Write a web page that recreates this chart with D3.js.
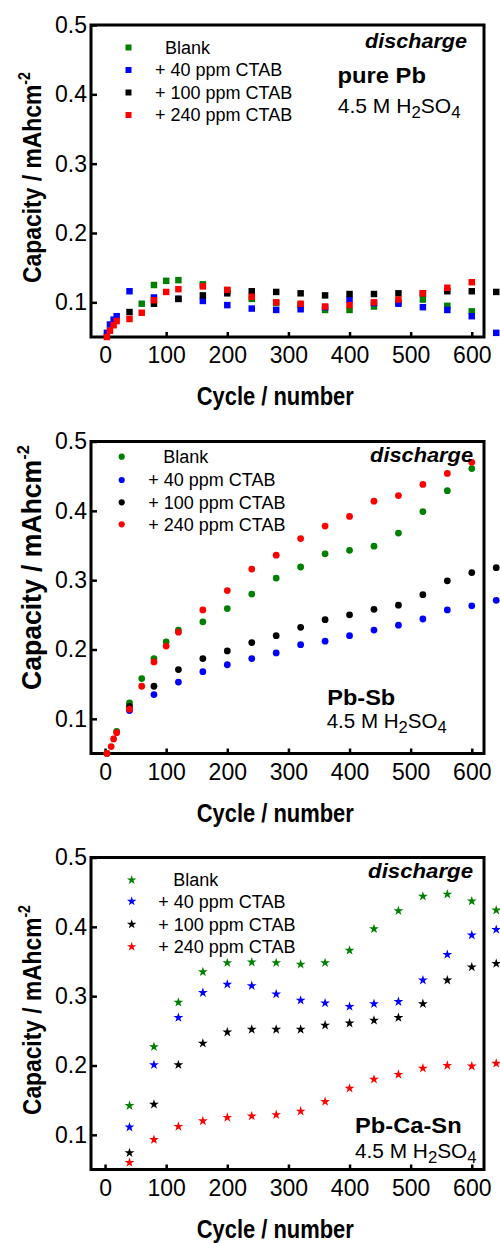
<!DOCTYPE html>
<html>
<head>
<meta charset="utf-8">
<script src="https://cdn.jsdelivr.net/npm/d3@7"></script>
<style>
  body { margin: 0; background: #fff; }
  svg { display: block; }
  text { font-family: "Liberation Sans", Arial, Helvetica, sans-serif; fill: #000; }
</style>
</head>
<body>
<svg id="chart" width="500" height="1243"></svg>
<script>
// ---------- data ----------
const xTicks = [0, 100, 200, 300, 400, 500, 600];
const yTicks = [0.1, 0.2, 0.3, 0.4, 0.5];
const legendLabels = ["Blank", "+ 40 ppm CTAB", "+ 100 ppm CTAB", "+ 240 ppm CTAB"];
const cycles40 = [40, 80, 120, 160, 200, 240, 280, 320, 360, 400, 440, 480, 520, 560, 600, 640];

// pure Pb
const pbBlankCycles = [60, 80, 100, 120, 160, 200, 240, 280, 320, 360, 400, 440, 480, 520, 560, 600];
const pbBlank = [0.098, 0.125, 0.131, 0.132, 0.126, 0.117, 0.105, 0.099, 0.096, 0.089, 0.089, 0.094, 0.100, 0.104, 0.095, 0.087];
const pb40Cycles = [3, 8, 14, 19, 40, 80, 120, 160, 200, 240, 280, 320, 360, 400, 440, 480, 520, 560, 600, 640];
const pb40 = [0.056, 0.068, 0.075, 0.080, 0.116, 0.107, 0.105, 0.102, 0.096, 0.091, 0.089, 0.090, 0.093, 0.104, 0.099, 0.098, 0.093, 0.089, 0.080, 0.056];
const pb100Cycles = [40, 80, 120, 160, 200, 240, 280, 320, 360, 400, 440, 480, 520, 560, 600, 640];
const pb100 = [0.086, 0.098, 0.105, 0.110, 0.113, 0.116, 0.115, 0.113, 0.110, 0.112, 0.112, 0.113, 0.113, 0.116, 0.116, 0.115];
const pb240Cycles = [3, 8, 14, 19, 40, 60, 80, 100, 120, 160, 200, 240, 280, 320, 360, 400, 440, 480, 520, 560, 600];
const pb240 = [0.050, 0.059, 0.067, 0.073, 0.076, 0.085, 0.103, 0.115, 0.119, 0.123, 0.118, 0.108, 0.100, 0.098, 0.094, 0.096, 0.100, 0.104, 0.113, 0.121, 0.129];

// Pb-Sb
const sbBlankCycles = [3, 19, 40, 60, 80, 100, 120, 160, 200, 240, 280, 320, 360, 400, 440, 480, 520, 560, 600];
const sbBlank = [0.050, 0.082, 0.123, 0.158, 0.187, 0.211, 0.228, 0.240, 0.259, 0.280, 0.303, 0.319, 0.338, 0.343, 0.349, 0.368, 0.399, 0.429, 0.461];
const sb40 = [0.112, 0.135, 0.153, 0.168, 0.178, 0.187, 0.195, 0.207, 0.212, 0.220, 0.228, 0.235, 0.244, 0.257, 0.263, 0.271];
const sb100 = [0.118, 0.147, 0.171, 0.187, 0.198, 0.210, 0.220, 0.232, 0.243, 0.250, 0.258, 0.264, 0.279, 0.299, 0.311, 0.318];
const sb240Cycles = [3, 10, 14, 19, 40, 60, 80, 100, 120, 160, 200, 240, 280, 320, 360, 400, 440, 480, 520, 560, 600];
const sb240 = [0.050, 0.060, 0.071, 0.080, 0.114, 0.147, 0.182, 0.205, 0.225, 0.257, 0.285, 0.316, 0.336, 0.360, 0.378, 0.392, 0.414, 0.422, 0.438, 0.454, 0.470];

// Pb-Ca-Sn
const snBlank = [0.142, 0.227, 0.291, 0.335, 0.348, 0.349, 0.348, 0.346, 0.348, 0.366, 0.397, 0.423, 0.444, 0.447, 0.437, 0.424];
const sn40 = [0.111, 0.201, 0.269, 0.305, 0.317, 0.315, 0.303, 0.294, 0.290, 0.285, 0.289, 0.292, 0.323, 0.360, 0.388, 0.396];
const sn100 = [0.074, 0.144, 0.201, 0.232, 0.248, 0.252, 0.252, 0.252, 0.258, 0.261, 0.265, 0.269, 0.289, 0.323, 0.342, 0.347];
const sn240 = [0.060, 0.093, 0.112, 0.120, 0.125, 0.127, 0.129, 0.134, 0.148, 0.167, 0.180, 0.187, 0.196, 0.200, 0.199, 0.203];

const colors = ["#008000", "#0000ff", "#000000", "#ff0000"];

// ---------- layout ----------
const left = 91, right = 484, plotH = 312;
const panels = [
  { top: 25, symbol: d3.symbolSquare, size: 42, legSize: 36,
    series: [[pbBlankCycles, pbBlank], [pb40Cycles, pb40], [pb100Cycles, pb100], [pb240Cycles, pb240]],
    leg: { mx: 128.5, tx0: 165, tx: 155, rows: [22.5, 45, 67.5, 90] },
    dis: { x: 467, y: 23.3, w: 102 },
    name: { text: "pure Pb", x: 337.5, y: 58.3, w: 88.5 },
    acid: { x: 337.7, y: 87.8, w: 123 },
    yTitle: { x: 41, start: 258, len: 211, size: 26 } },
  { top: 441.5, symbol: d3.symbolCircle, size: 36, legSize: 30,
    series: [[sbBlankCycles, sbBlank], [cycles40, sb40], [cycles40, sb100], [sb240Cycles, sb240]],
    leg: { mx: 121.7, tx0: 163.3, tx: 148.3, rows: [15.2, 38.5, 60.8, 82.8] },
    dis: { x: 473, y: 20.2, w: 103 },
    name: { text: "Pb-Sb", x: 327.3, y: 263.5, w: 68 },
    acid: { x: 326.7, y: 286.8, w: 120 },
    yTitle: { x: 41, start: 248.5, len: 245, size: 28 } },
  { top: 857.5, symbol: d3.symbolStar, size: 30, legSize: 28,
    series: [[cycles40, snBlank], [cycles40, sn40], [cycles40, sn100], [cycles40, sn240]],
    leg: { mx: 131.7, tx0: 173.3, tx: 158.3, rows: [22.5, 43.8, 66.8, 89.2] },
    dis: { x: 473, y: 20.8, w: 105 },
    name: { text: "Pb-Ca-Sn", x: 355, y: 275.8, w: 106.7 },
    acid: { x: 355, y: 300.8, w: 121.7 },
    yTitle: { x: 41, start: 257.5, len: 210, size: 26 } }
];

const svg = d3.select("#chart");
const x = d3.scaleLinear().domain([-23, 620]).range([left, right]);
const y = d3.scaleLinear().domain([0.05, 0.5]).range([plotH, 0]);

// squeeze a text horizontally (in its own frame) to a wanted width
function squeeze(sel, w) {
  const len = sel.node().getComputedTextLength();
  return len > 0 ? w / len : 1;
}

panels.forEach(p => {
  const g = svg.append("g").attr("transform", `translate(0,${p.top})`);

  // axes: inward ticks
  const xa = g.append("g").attr("transform", `translate(0,${plotH})`)
    .call(d3.axisBottom(x).tickValues(xTicks).tickSize(-5).tickPadding(10).tickFormat(d3.format("d")));
  const ya = g.append("g").attr("transform", `translate(${left},0)`)
    .call(d3.axisLeft(y).tickValues(yTicks).tickSize(-6).tickPadding(4).tickFormat(d3.format(".1f")));
  [xa, ya].forEach(a => {
    a.select(".domain").remove();
    a.selectAll("line").attr("stroke", "#000").attr("stroke-width", 2.5);
    a.selectAll("text").attr("font-size", 23).attr("fill", "#000")
      .style("font-family", '"Liberation Sans", Arial, sans-serif');
  });

  // frame
  g.append("rect")
    .attr("x", left).attr("y", 0)
    .attr("width", right - left).attr("height", plotH)
    .attr("fill", "none").attr("stroke", "#000").attr("stroke-width", 3);

  // points
  p.series.forEach((s, i) => {
    const pts = s[0].map((c, k) => ({ c: c, v: s[1][k] }));
    g.append("g").selectAll("path")
      .data(pts)
      .enter()
      .append("path")
        .attr("d", d3.symbol().type(p.symbol).size(p.size))
        .attr("transform", d => `translate(${x(d.c)},${y(d.v)})`)
        .attr("fill", colors[i]);
  });

  // legend
  legendLabels.forEach((lab, i) => {
    const ry = p.leg.rows[i];
    g.append("path")
      .attr("d", d3.symbol().type(p.symbol).size(p.legSize))
      .attr("transform", `translate(${p.leg.mx},${ry})`)
      .attr("fill", colors[i]);
    g.append("text")
      .attr("x", i == 0 ? p.leg.tx0 : p.leg.tx)
      .attr("y", ry)
      .attr("dy", "0.35em")
      .attr("font-size", 18)
      .text(lab);
  });

  // "discharge"
  const dis = g.append("text")
    .attr("font-size", 20).attr("font-weight", "bold").attr("font-style", "italic")
    .attr("text-anchor", "end").text("discharge");
  dis.attr("transform", `translate(${p.dis.x},${p.dis.y}) scale(${squeeze(dis, p.dis.w)},1)`);

  // alloy name
  const nm = g.append("text").attr("font-size", 22).attr("font-weight", "bold").text(p.name.text);
  nm.attr("transform", `translate(${p.name.x},${p.name.y}) scale(${squeeze(nm, p.name.w)},1)`);

  // 4.5 M H2SO4
  const ac = g.append("text").attr("font-size", 20);
  ac.append("tspan").text("4.5 M H");
  ac.append("tspan").attr("font-size", 16).attr("dy", 5).text("2");
  ac.append("tspan").attr("dy", -5).text("SO");
  ac.append("tspan").attr("font-size", 16).attr("dy", 5).text("4");
  ac.attr("transform", `translate(${p.acid.x},${p.acid.y}) scale(${squeeze(ac, p.acid.w)},1)`);

  // y title
  const yt = g.append("text").attr("font-size", p.yTitle.size).attr("font-weight", "bold");
  yt.append("tspan").text("Capacity / mAhcm");
  yt.append("tspan").attr("font-size", p.yTitle.size * 0.62).attr("dy", -p.yTitle.size * 0.42).text("-2");
  yt.attr("transform", `translate(${p.yTitle.x},${p.yTitle.start}) rotate(-90) scale(${squeeze(yt, p.yTitle.len)},1)`);

  // x title
  const xt = g.append("text").attr("font-size", 25).attr("font-weight", "bold")
    .attr("text-anchor", "middle").text("Cycle / number");
  xt.attr("transform", `translate(275.3,${plotH + 68}) scale(${squeeze(xt, 157)},1)`);
});
</script>
</body>
</html>
